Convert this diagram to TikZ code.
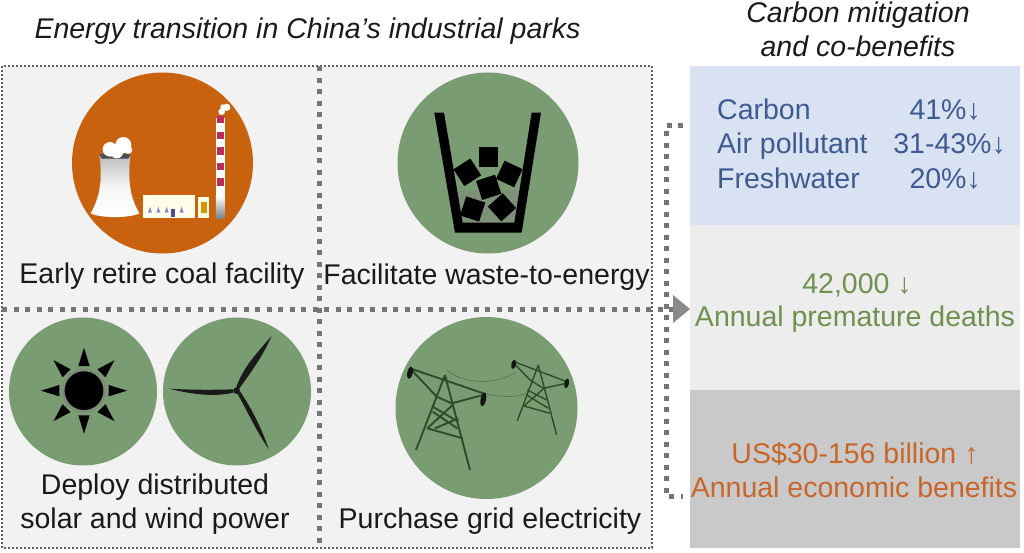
\documentclass[tikz,border=0pt]{standalone}
\usepackage{fontspec}
\setmainfont{Liberation Sans}
\definecolor{cellgray}{HTML}{F2F2F2}
\definecolor{leaf}{HTML}{7A9C72}
\definecolor{rust}{HTML}{C8620F}
\definecolor{ink}{HTML}{1A1A1A}
\definecolor{panelblue}{HTML}{D9E2F3}
\definecolor{panellight}{HTML}{EDEDED}
\definecolor{panelgray}{HTML}{C9C9C9}
\definecolor{txtblue}{HTML}{3F5A8F}
\definecolor{txtgreen}{HTML}{6F9150}
\definecolor{txtorange}{HTML}{C8662A}
\definecolor{dotgray}{HTML}{757575}
\definecolor{band}{HTML}{B92C55}
\definecolor{pylon}{HTML}{2F4A2C}
\tikzset{
  lab/.style={font=\fontsize{28.5}{28.5}\selectfont,anchor=base,inner sep=0pt,text=ink},
  ttl/.style={lab,font=\fontsize{28.5}{28.5}\selectfont\itshape},
  disc/.style={circle,fill=#1,draw=none,inner sep=0pt},
  fineline/.style={draw=dotgray!80!black,line width=2pt,dash pattern=on 2pt off 2pt},
  fatline/.style={draw=dotgray,line width=5pt,dash pattern=on 5pt off 6.5pt},
}
\begin{document}
\begin{tikzpicture}[x=1pt,y=-1pt]
\useasboundingbox (0,0) rectangle (1024,552);
\fill[white] (0,0) rectangle (1024,552);
% panels
\fill[cellgray] (2,66) rectangle (652,548);
\fill[panelblue] (690,66) rectangle (1020,225);
\fill[panellight] (690,225) rectangle (1020,390);
\fill[panelgray] (690,390) rectangle (1020,548);
% discs
\node[disc=rust,minimum size=181pt] (coal) at (162.5,163) {};
\node[disc=leaf,minimum size=181pt] (waste) at (488,163) {};
\node[disc=leaf,minimum size=148pt] (solar) at (83,391.5) {};
\node[disc=leaf,minimum size=148pt] (wind) at (237,391.5) {};
\node[disc=leaf,minimum size=182pt] (grid) at (486.5,408) {};
% frames
\coordinate (tl) at (2,66); \coordinate (br) at (652,548);
\draw[fineline] (tl) rectangle (br);
\coordinate (midT) at (319,66); \coordinate (midB) at (319,548);
\coordinate (midL) at (2,309);
\draw[fatline] (midT) -- (midB);
% coal icon
\begin{scope}[shift={(0,50)},x=0.3333pt,y=-0.3333pt]
  \shade[top color=gray!55,bottom color=white,middle color=white!92!gray]
    (298,312) .. controls (310,400) and (295,450) .. (272,490)
    .. controls (300,505) and (390,505) .. (418,490)
    .. controls (395,450) and (380,400) .. (392,312) -- cycle;
  \fill[gray!60!black] (298,312) -- (392,312) -- (385,326) -- (305,326) -- cycle;
  \fill[white] (330,298) circle (22) (370,285) circle (24) (350,305) circle (20) (385,300) circle (12);
  \fill[white!92!yellow] (430,434) rectangle (585,505);
  \foreach \px in {450,475,500,545} \fill[blue!30!gray!70] (\px-6,488) -- (\px,470) -- (\px+6,488) -- cycle;
  \fill[blue!40!black!70] (512,478) rectangle (524,500);
  \fill[white!88!yellow] (595,440) rectangle (628,505);
  \fill[rust!70!yellow] (603,455) rectangle (620,490);
  \fill[white] (648,205) rectangle (675,440);
  \foreach \py in {198,245,292,338,385} \fill[band] (650,\py) rectangle (673,\py+22);
  \shade[top color=white,bottom color=gray] (648,438) rectangle (675,505);
  \fill[white] (665,185) circle (10) (680,172) circle (11) (668,170) circle (7);
\end{scope}
% waste icon
\begin{scope}[shift={(320,50)},x=0.3333pt,y=-0.3333pt]
  \fill[gray!40!leaf] (418,420) -- (600,420) -- (585,518) -- (428,518) -- cycle;
  \fill[black] (343,188) -- (372,188) -- (428,518) -- (583,518) -- (635,188) -- (663,188) -- (605,548) -- (405,548) -- cycle;
  \fill[black] (476,292) rectangle (534,352);
  \foreach \cx/\cy/\rot in {442/367/33,568/372/-25,506/412/18,458/477/-18,546/472/42}
    \fill[black,shift={(\cx,\cy)},rotate=\rot] (-30,-30) rectangle (30,30);
\end{scope}
% sun icon
\begin{scope}[shift={(0,300)},x=0.3333pt,y=-0.3333pt]
  \fill[gray!60!leaf] (252,272) circle (66);
  \fill[black] (252,272) circle (58);
  \foreach \ang in {0,45,...,315}
    \fill[black,shift={(252,272)},rotate=\ang] (74,-17) -- (129,0) -- (74,17) -- cycle;
\end{scope}
% wind icon
\begin{scope}[shift={(0,300)},x=0.3333pt,y=-0.3333pt]
  \fill[ink] (710,272) circle (10);
  \fill[ink] (708,264) .. controls (728,205) and (765,165) .. (815,108) .. controls (790,165) and (755,215) .. (716,268) -- cycle;
  \fill[ink] (700,268) .. controls (640,270) and (570,270) .. (508,266) .. controls (570,282) and (640,292) .. (700,278) -- cycle;
  \fill[ink] (712,280) .. controls (740,330) and (770,395) .. (806,447) .. controls (785,385) and (755,325) .. (720,274) -- cycle;
\end{scope}
% grid icon
\begin{scope}[shift={(320,300)},x=0.3333pt,y=-0.3333pt,line width=1.9pt,draw=pylon]
  \draw[line width=.7pt,draw=black!25!leaf] (380,210) .. controls (440,260) and (540,250) .. (590,215);
  \draw[line width=.7pt,draw=black!25!leaf] (490,280) .. controls (530,290) and (580,295) .. (620,280);
  \draw (270,205) -- (490,280) (270,205) -- (350,290) (490,285) -- (395,310);
  \draw (375,225) -- (288,450) (375,225) -- (450,510);
  \draw (350,290) -- (395,310) (338,320) -- (415,365) (398,315) -- (322,385)
        (322,385) -- (428,415) (338,335) -- (412,385) (415,355) -- (345,385);
  \fill[black!85!leaf,rotate around={-12:(270,218)}] (270,218) ellipse (8 and 19);
  \fill[black!85!leaf,rotate around={-12:(490,298)}] (490,298) ellipse (8 and 21);
  \draw[line width=1.4pt] (582,185) -- (740,245) (582,190) -- (630,240) (740,250) -- (670,265);
  \draw[line width=1.4pt] (655,195) -- (592,362) (655,195) -- (710,405);
  \draw[line width=1.4pt] (630,240) -- (670,265) (622,270) -- (680,300) (672,265) -- (612,318)
        (612,318) -- (690,340) (620,285) -- (685,325);
  \fill[black!85!leaf,rotate around={-12:(581,193)}] (581,193) ellipse (7 and 14);
  \fill[black!85!leaf,rotate around={-12:(740,250)}] (740,250) ellipse (7 and 15);
\end{scope}
% bracket and arrow
\coordinate (brT) at (683,125);
\coordinate (brTc) at (666,125);
\coordinate (brBc) at (666,496);
\coordinate (brB) at (683,496);
\draw[fatline] (brT) -- (brTc) -- (brBc) -- (brB);
\coordinate (arrowhd) at (673,309);
\draw[fatline] (midL) -- (arrowhd);
\fill[dotgray!85] (673,295) -- (690,309) -- (673,323) -- cycle;
% titles
\node[ttl] (t1) at (307.5,38) {Energy transition in China's industrial parks};
\node[ttl] (t2) at (858,22) {Carbon mitigation};
\node[ttl] (t3) at (858,56) {and co-benefits};
% labels
\node[lab] (l1) at (162,283) {Early retire coal facility};
\node[lab] (l2) at (486.5,284) {Facilitate waste-to-energy};
\node[lab] (l3) at (155,494) {Deploy distributed};
\node[lab] (l4) at (155,528) {solar and wind power};
\node[lab] (l5) at (490,528) {Purchase grid electricity};
% panel text
\begin{scope}[every node/.append style={lab,text=txtblue}]
\node[anchor=base west] (c1) at (717,119) {Carbon};
\node[anchor=base west] (c2) at (717,153) {Air pollutant};
\node[anchor=base west] (c3) at (717,188) {Freshwater};
\node[anchor=base east] (v1) at (981,119) {41\%↓};
\node[anchor=base east] (v2) at (1006,153) {31-43\%↓};
\node[anchor=base east] (v3) at (981,188) {20\%↓};
\end{scope}
\node[lab,text=txtgreen] (g1) at (857,293) {42,000 ↓};
\node[lab,text=txtgreen] (g2) at (855,326) {Annual premature deaths};
\node[lab,text=txtorange] (o1) at (855,463) {US\$30-156 billion ↑};
\node[lab,text=txtorange] (o2) at (854,497) {Annual economic benefits};
\end{tikzpicture}
\end{document}
